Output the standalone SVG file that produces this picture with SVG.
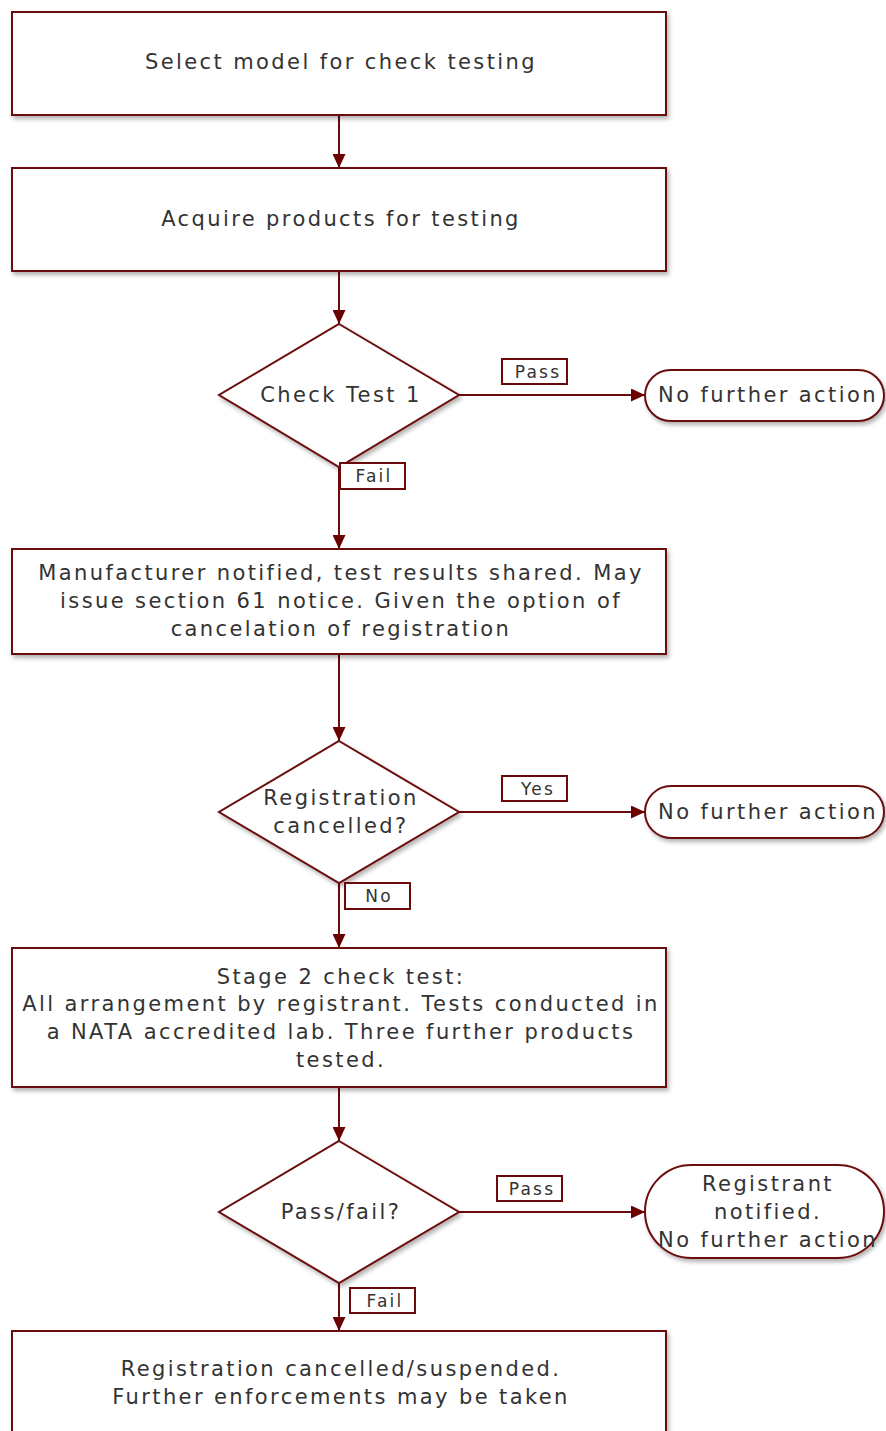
<svg xmlns="http://www.w3.org/2000/svg" width="886" height="1431" viewBox="0 0 886 1431">
<style>
.n{fill:#fff;stroke:#6b0a0a;stroke-width:2;filter:url(#sh)}
.t{font-family:"DejaVu Sans",sans-serif;font-size:21px;fill:#333;text-anchor:middle;dominant-baseline:central;letter-spacing:2.4px}
.l{fill:#fff;stroke:#6b0a0a;stroke-width:2}
.lt{font-family:"DejaVu Sans",sans-serif;font-size:17px;fill:#333;text-anchor:middle;dominant-baseline:central;letter-spacing:2.2px}
.c{stroke:#6b0a0a;stroke-width:2;fill:none;marker-end:url(#ah)}
</style>
<defs>
<filter id="sh" x="-10%" y="-10%" width="130%" height="130%">
<feDropShadow dx="2" dy="3" stdDeviation="2" flood-color="#000" flood-opacity="0.3"/>
</filter>
<marker id="ah" markerWidth="14" markerHeight="13" refX="14" refY="6.5" orient="auto" markerUnits="userSpaceOnUse">
<path d="M0,0 L14,6.5 L0,13 Z" fill="#6b0000"/>
</marker>
</defs>
<g id="connectors">
<line class="c" x1="339" y1="115" x2="339" y2="168"/>
<line class="c" x1="339" y1="271" x2="339" y2="324"/>
<line class="c" x1="459" y1="395" x2="645" y2="395"/>
<line class="c" x1="339" y1="467" x2="339" y2="549"/>
<line class="c" x1="339" y1="654" x2="339" y2="741"/>
<line class="c" x1="459" y1="812" x2="645" y2="812"/>
<line class="c" x1="339" y1="883" x2="339" y2="948"/>
<line class="c" x1="339" y1="1087" x2="339" y2="1141"/>
<line class="c" x1="459" y1="1212" x2="645" y2="1212"/>
<line class="c" x1="339" y1="1283" x2="339" y2="1331"/>
</g>
<g id="n1"><rect class="n" x="12" y="12" width="654" height="103"/><text class="t" x="341" y="62">Select model for check testing</text></g>
<g id="n2"><rect class="n" x="12" y="168" width="654" height="103"/><text class="t" x="341" y="219">Acquire products for testing</text></g>
<g id="d1"><polygon class="n" points="339,324 459,395 339,467 219,395"/><text class="t" x="341" y="395">Check Test 1</text></g>
<g id="e1"><rect class="n" x="645" y="370" width="239" height="51" rx="25.5"/><text class="t" x="768" y="395">No further action</text></g>
<g id="n3"><rect class="n" x="12" y="549" width="654" height="105"/>
<text class="t" x="341" y="573">Manufacturer notified, test results shared. May</text>
<text class="t" x="341" y="601">issue section 61 notice. Given the option of</text>
<text class="t" x="341" y="629">cancelation of registration</text></g>
<g id="d2"><polygon class="n" points="339,741 459,812 339,883 219,812"/>
<text class="t" x="341" y="798">Registration</text><text class="t" x="341" y="826">cancelled?</text></g>
<g id="e2"><rect class="n" x="645" y="786" width="239" height="52" rx="26"/><text class="t" x="768" y="812">No further action</text></g>
<g id="n4"><rect class="n" x="12" y="948" width="654" height="139"/>
<text class="t" x="341" y="977">Stage 2 check test:</text>
<text class="t" x="341" y="1004">All arrangement by registrant. Tests conducted in</text>
<text class="t" x="341" y="1032">a NATA accredited lab. Three further products</text>
<text class="t" x="341" y="1060">tested.</text></g>
<g id="d3"><polygon class="n" points="339,1141 459,1212 339,1283 219,1212"/><text class="t" x="341" y="1212">Pass/fail?</text></g>
<g id="e3"><rect class="n" x="645" y="1165" width="239" height="93" rx="46.5"/>
<text class="t" x="768" y="1184">Registrant</text><text class="t" x="768" y="1212">notified.</text><text class="t" x="768" y="1240">No further action</text></g>
<g id="n5"><rect class="n" x="12" y="1331" width="654" height="120"/>
<text class="t" x="341" y="1369">Registration cancelled/suspended.</text>
<text class="t" x="341" y="1397">Further enforcements may be taken</text></g>
<g id="labels">
<rect class="l" x="502" y="359" width="65" height="25"/><text class="lt" x="538" y="372">Pass</text>
<rect class="l" x="340" y="463" width="65" height="26"/><text class="lt" x="374" y="476">Fail</text>
<rect class="l" x="502" y="776" width="65" height="25"/><text class="lt" x="538" y="789">Yes</text>
<rect class="l" x="345" y="883" width="65" height="26"/><text class="lt" x="379" y="896">No</text>
<rect class="l" x="497" y="1176" width="65" height="25"/><text class="lt" x="532" y="1189">Pass</text>
<rect class="l" x="350" y="1288" width="65" height="25"/><text class="lt" x="385" y="1301">Fail</text>
</g>
</svg>
